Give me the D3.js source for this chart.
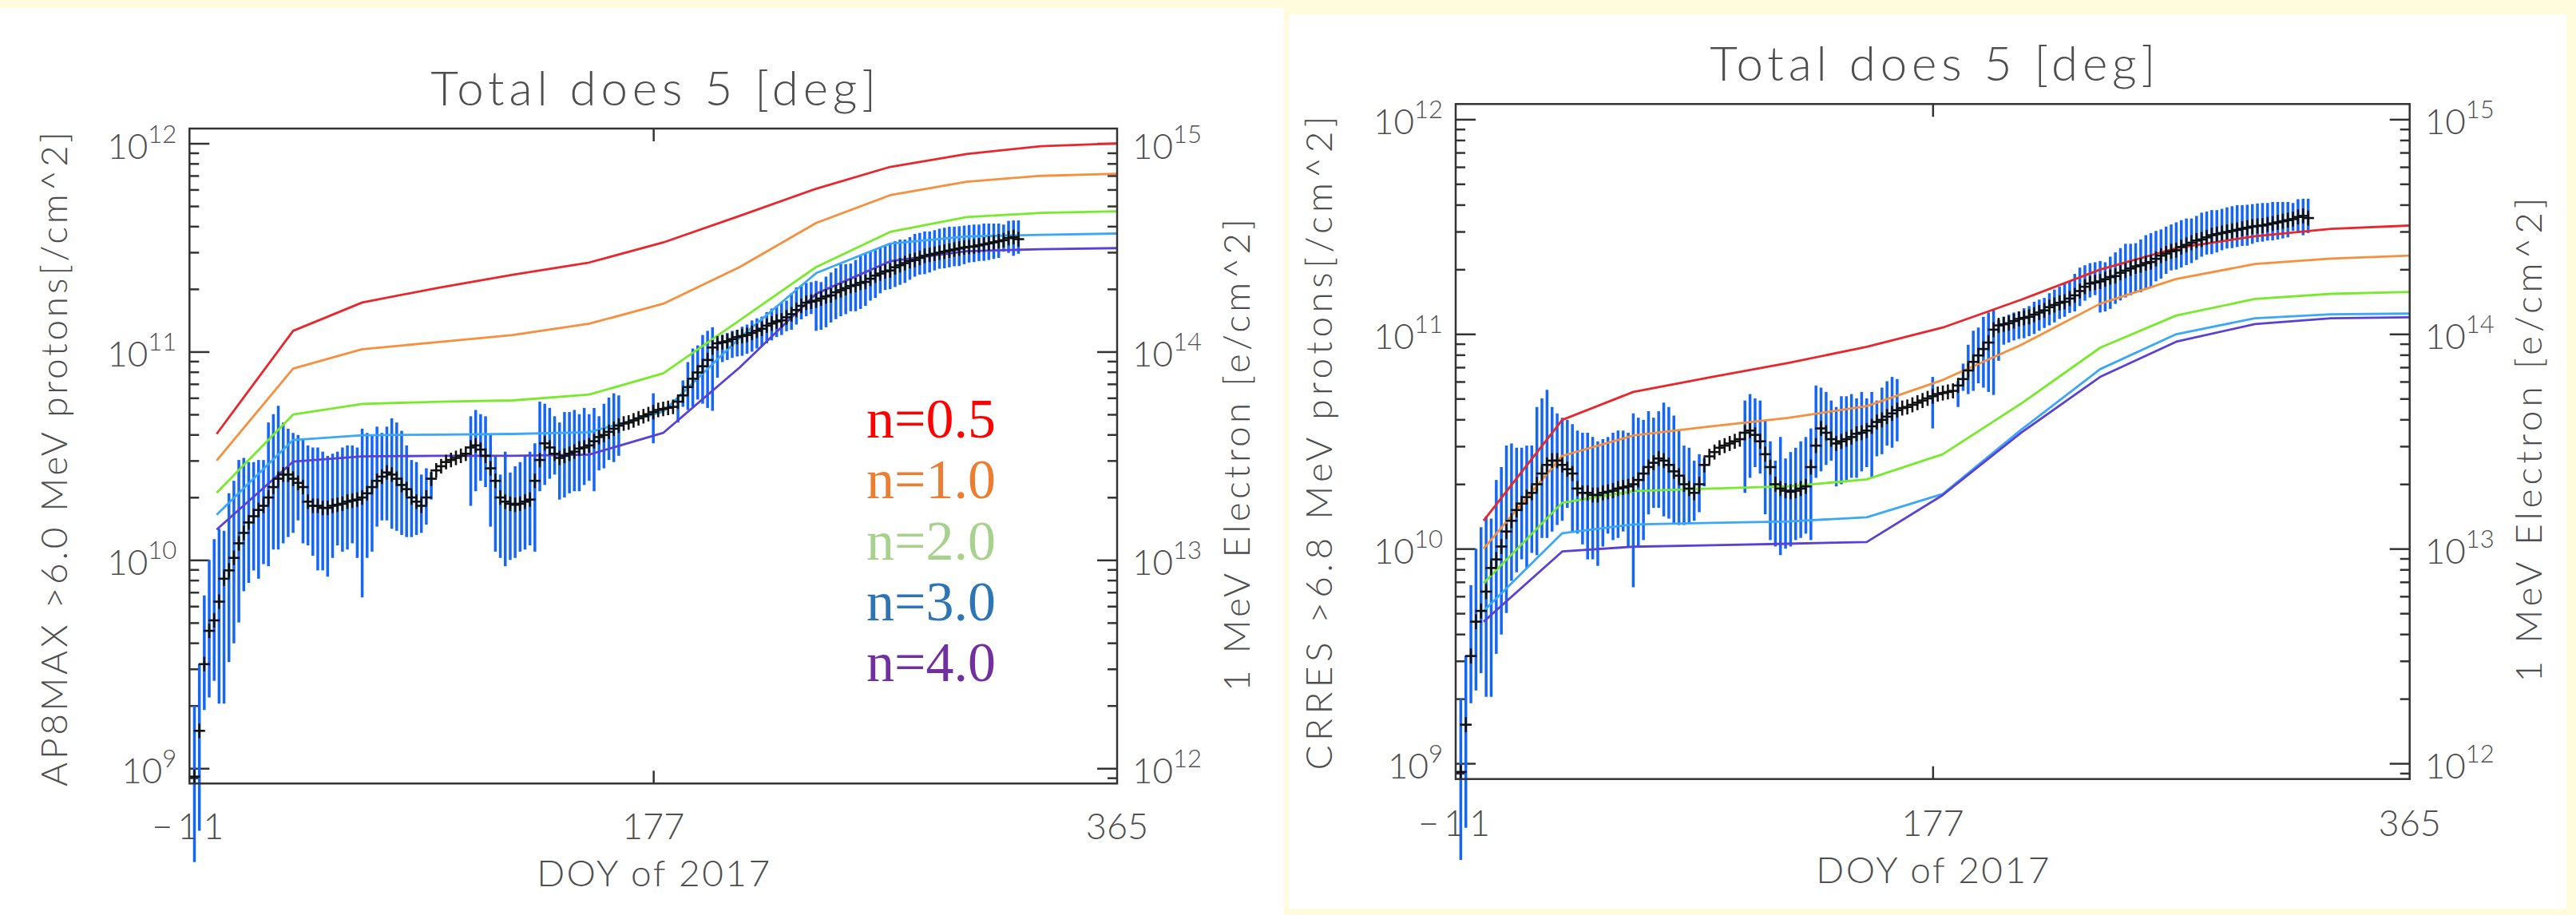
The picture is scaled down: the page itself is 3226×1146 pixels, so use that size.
<!DOCTYPE html>
<html><head><meta charset="utf-8">
<script src="https://cdn.jsdelivr.net/npm/d3@7"></script>
<style>
html,body{margin:0;padding:0;background:#fffbdc;}
svg{display:block;}
</style></head><body>
<svg id="c" width="3226" height="1146"></svg>
<script>
// ---------------- DATA ----------------
// measured cumulative fluence (log10 of /cm^2), day of year 2017
const doy = [-9,-7,-5,-3,-1,1,3,5,7,9,11,13,15,17,19,21,23,25,27,29,31,33,35,37,39,41,43,45,47,49,51,53,55,57,59,61,63,65,67,69,71,73,75,77,79,81,83,85,87,89,91,93,95,97,99,101,103,105,107,109,111,113,115,117,119,121,123,125,127,129,131,133,135,137,139,141,143,145,147,149,151,153,155,157,159,161,163,165,167,169,171,173,175,177,179,181,183,185,187,189,191,193,195,197,199,201,203,205,207,209,211,213,215,217,219,221,223,225,227,229,231,233,235,237,239,241,243,245,247,249,251,253,255,257,259,261,263,265,267,269,271,273,275,277,279,281,283,285,287,289,291,293,295,297,299,301,303,305,307,309,311,313,315,317,319,321,323,325];
const logCenter = [
 8.96,9.18,9.50,9.66,9.71,9.80,9.91,9.95,10.01,10.08,
 10.13,10.18,10.21,10.24,10.26,10.30,10.35,10.39,10.41,10.41,
 10.39,10.37,10.35,10.28,10.26,10.26,10.25,10.25,10.26,10.265,
 10.27,10.28,10.285,10.29,10.30,10.32,10.35,10.38,10.40,10.42,
 10.41,10.39,10.36,10.34,10.30,10.28,10.26,10.30,10.39,10.43,
 10.45,10.47,10.48,10.49,10.50,10.51,10.54,10.55,10.53,10.50,
 10.44,10.38,10.30,10.28,10.27,10.265,10.27,10.28,10.29,10.38,
 10.48,10.56,10.54,10.51,10.49,10.50,10.51,10.52,10.535,10.54,
 10.55,10.57,10.59,10.60,10.615,10.63,10.645,10.655,10.66,10.67,
 10.68,10.69,10.70,10.71,10.72,10.725,10.73,10.735,10.76,10.79,
 10.83,10.87,10.90,10.93,10.96,11.02,11.04,11.045,11.05,11.06,
 11.07,11.075,11.08,11.09,11.10,11.11,11.125,11.135,11.145,11.15,
 11.165,11.18,11.20,11.22,11.235,11.24,11.245,11.255,11.265,11.27,
 11.285,11.295,11.305,11.315,11.32,11.33,11.335,11.35,11.365,11.375,
 11.385,11.39,11.405,11.415,11.425,11.435,11.44,11.45,11.46,11.465,
 11.47,11.475,11.48,11.485,11.49,11.495,11.50,11.503,11.505,11.51,
 11.515,11.52,11.525,11.53,11.535,11.545,11.55,11.54];
const logLow = [
 8.55,8.70,9.28,9.34,9.42,9.31,9.31,9.51,9.60,9.70,
 9.85,9.89,9.95,9.91,9.98,9.97,10.05,10.05,10.08,10.11,
 10.13,10.19,10.08,10.07,10.02,9.95,9.95,9.92,10.01,10.07,
 10.04,10.05,10.08,10.01,9.82,10.01,10.04,10.16,10.19,10.19,
 10.15,10.14,10.12,10.11,10.11,10.12,10.13,10.17,10.29,null,
 null,null,null,null,null,null,10.26,10.33,10.38,10.35,
 10.16,10.04,10.01,9.97,10.00,10.01,10.04,10.05,10.07,10.04,
 10.33,10.36,10.39,10.41,10.29,10.30,10.32,10.33,10.33,10.36,
 10.38,10.33,10.43,10.44,10.48,10.47,10.50,null,null,null,
 null,null,null,10.56,null,null,null,null,10.66,10.735,
 10.72,10.735,10.77,10.75,10.73,10.716,10.875,10.95,10.96,10.97,
 10.977,10.98,10.99,11.00,11.015,11.028,11.04,11.054,11.07,11.08,
 11.098,11.105,11.13,11.155,11.17,11.181,11.10,11.105,11.117,11.14,
 11.156,11.17,11.18,11.194,11.194,11.205,11.22,11.245,11.258,11.28,
 11.296,11.30,11.31,11.321,11.33,11.345,11.36,11.37,11.372,11.38,
 11.39,11.398,11.40,11.405,11.41,11.411,11.42,11.428,11.43,11.435,
 11.436,11.44,11.445,11.45,11.48,11.474,11.46,11.47];
const logHigh = [
 9.30,9.50,9.83,10.00,10.10,10.15,10.14,10.32,10.38,10.48,
 10.49,10.47,10.47,10.48,10.48,10.66,10.70,10.74,10.66,10.63,
 10.61,10.60,10.58,10.55,10.54,10.54,10.52,10.50,10.51,10.52,
 10.54,10.55,10.55,10.54,10.63,10.61,10.60,10.64,10.61,10.64,
 10.68,10.66,10.62,10.55,10.48,10.47,10.41,10.44,10.42,null,
 null,null,null,null,null,null,10.69,10.72,10.70,10.69,
 10.60,10.50,10.41,10.52,10.42,10.45,10.47,10.50,10.52,10.56,
 10.76,10.75,10.73,10.69,10.66,10.71,10.71,10.72,10.70,10.73,
 10.70,10.73,10.69,10.75,10.78,10.80,10.79,null,null,null,
 null,null,null,10.80,null,null,null,null,10.78,10.862,
 10.95,11.015,11.03,11.08,11.10,11.117,11.066,11.08,11.09,11.10,
 11.105,11.12,11.13,11.15,11.16,11.168,11.19,11.207,11.22,11.235,
 11.245,11.28,11.309,11.32,11.33,11.334,11.34,11.334,11.36,11.38,
 11.40,11.42,11.42,11.423,11.44,11.46,11.47,11.48,11.487,11.50,
 11.51,11.52,11.53,11.538,11.538,11.55,11.565,11.57,11.577,11.577,
 11.583,11.59,11.595,11.60,11.60,11.602,11.605,11.608,11.61,11.61,
 11.615,11.615,11.615,11.615,11.61,11.628,11.63,11.63];

// model curves (log10 fluence) at month ends
const months = [0,31,59,90,120,151,181,212,243,273,304,334,365];
const ap8N05 = [10.605,11.10,11.236,11.307,11.369,11.428,11.524,11.652,11.782,11.887,11.949,11.986,12.0];
const ap8N10 = [10.477,10.919,11.012,11.046,11.08,11.134,11.23,11.406,11.618,11.751,11.816,11.844,11.854];
const ap8N20 = [10.322,10.698,10.749,10.76,10.766,10.794,10.896,11.151,11.406,11.575,11.646,11.666,11.674];
const ap8N30 = [10.217,10.576,10.599,10.602,10.605,10.613,10.712,11.066,11.377,11.519,11.553,11.561,11.567];
const ap8N40 = [10.146,10.472,10.497,10.5,10.5,10.506,10.61,10.924,11.278,11.434,11.482,11.492,11.497];
const crN05 = [10.13,10.60,10.73,10.80,10.865,10.94,11.03,11.16,11.30,11.40,11.455,11.49,11.505];
const crN10 = [10.0,10.432,10.527,10.57,10.609,10.664,10.786,10.95,11.141,11.256,11.326,11.351,11.365];
const crN20 = [9.84,10.214,10.268,10.28,10.29,10.323,10.44,10.677,10.936,11.086,11.163,11.187,11.196];
const crN30 = [9.71,10.072,10.113,10.12,10.127,10.146,10.255,10.555,10.836,10.999,11.073,11.092,11.095];
const crN40 = [9.66,9.987,10.009,10.016,10.023,10.031,10.25,10.541,10.80,10.964,11.046,11.073,11.078];

const legendLabels = ["n=0.5","n=1.0","n=2.0","n=3.0","n=4.0"];
const xTickValues = [-11,177,365];
const xTickLabels = ["\u221211","177","365"];
const leftExps = [9,10,11,12];
const rightExps = [12,13,14,15];

// ---------------- STYLE ----------------
const lineColors = ["#e8262b","#f78f3c","#77ea2c","#3aa7f8","#5a40d4"];
const legendColors = ["#ff0000","#ed7d31","#a9d18e","#2e75b6","#7030a0"];
const BLUE = "#1466f6";
const FONT = "Lato, 'Open Sans', 'DejaVu Sans', sans-serif";
const TXT = "#4e4e4e";
const LOGMIN = 8.927, LOGMAX = 12.071;

const svg = d3.select('#c');
svg.append('rect').attr('x',0).attr('y',0).attr('width',3226).attr('height',1146).attr('fill','#fffbdc');
svg.append('rect').attr('x',0).attr('y',10).attr('width',1608).attr('height',1136).attr('fill','#ffffff');
svg.append('rect').attr('x',1614).attr('y',18).attr('width',1600).attr('height',1120).attr('fill','#ffffff');

const panels = [
  {x0:237.3,x1:1399,y0:161,y1:981.3,title:'Total does 5 [deg]',titleBase:132,
   ylab:'AP8MAX >6.0 MeV protons[/cm^2]',ylabX:66,ylabLen:820,ylabCY:575,
   y2lab:'1 MeV Electron [e/cm^2]',y2labX:1547,y2labLen:592,y2labCY:570,
   xLabBase:1051,doyBase:1110,models:[ap8N05,ap8N10,ap8N20,ap8N30,ap8N40],legend:true},
  {x0:1823,x1:3017.7,y0:130.3,y1:975.7,title:'Total does 5 [deg]',titleBase:101,
   ylab:'CRRES >6.8 MeV protons[/cm^2]',ylabX:1650,ylabLen:819,ylabCY:555,
   y2lab:'1 MeV Electron [e/cm^2]',y2labX:3165,y2labLen:607,y2labCY:551,
   xLabBase:1047,doyBase:1106,models:[crN05,crN10,crN20,crN30,crN40],legend:false}
];

function minorVals(offset){
  const v=[];
  for(let k=8;k<=12;k++) for(let m=2;m<=9;m++){
    const l=k+Math.log10(m);
    if(l>LOGMIN && l<LOGMAX) v.push(m*Math.pow(10,k+offset));
  }
  return v;
}

panels.forEach(p=>{
  const g = svg.append('g');
  const x = d3.scaleLinear().domain([-11,365]).range([p.x0,p.x1]);
  const y = d3.scaleLog().domain([Math.pow(10,LOGMIN),Math.pow(10,LOGMAX)]).range([p.y1,p.y0]);
  const yR = d3.scaleLog().domain([Math.pow(10,LOGMIN+3),Math.pow(10,LOGMAX+3)]).range([p.y1,p.y0]);

  // axes ticks (inward)
  const styleAxis = sel=>{ sel.select('.domain').remove(); sel.selectAll('line').attr('stroke','#333').attr('stroke-width',2.5); sel.selectAll('text').remove(); };
  g.append('g').attr('transform',`translate(${p.x0},0)`).call(d3.axisLeft(y).tickValues(minorVals(0)).tickSize(-12).tickFormat('')).call(styleAxis);
  g.append('g').attr('transform',`translate(${p.x0},0)`).call(d3.axisLeft(y).tickValues(leftExps.map(e=>Math.pow(10,e))).tickSize(-25).tickFormat('')).call(styleAxis);
  g.append('g').attr('transform',`translate(${p.x1},0)`).call(d3.axisRight(yR).tickValues(minorVals(3)).tickSize(-12).tickFormat('')).call(styleAxis);
  g.append('g').attr('transform',`translate(${p.x1},0)`).call(d3.axisRight(yR).tickValues(rightExps.map(e=>Math.pow(10,e))).tickSize(-25).tickFormat('')).call(styleAxis);
  g.append('g').attr('transform',`translate(0,${p.y1})`).call(d3.axisBottom(x).tickValues([177]).tickSize(-16).tickFormat('')).call(styleAxis);
  g.append('g').attr('transform',`translate(0,${p.y0})`).call(d3.axisTop(x).tickValues([177]).tickSize(-16).tickFormat('')).call(styleAxis);

  // blue error bars
  const idx = d3.range(doy.length);
  g.append('g').selectAll('line').data(idx.filter(i=>logLow[i]!==null)).join('line')
    .attr('x1',i=>x(doy[i])).attr('x2',i=>x(doy[i]))
    .attr('y1',i=>y(Math.pow(10,logLow[i]))).attr('y2',i=>y(Math.pow(10,logHigh[i])))
    .attr('stroke',BLUE).attr('stroke-width',3.5);

  // model curves
  const line = d3.line().x(d=>x(d[0])).y(d=>y(Math.pow(10,d[1])));
  p.models.forEach((m,k)=>{
    g.append('path').datum(months.map((d,i)=>[d,m[i]])).attr('d',line)
      .attr('fill','none').attr('stroke',lineColors[k]).attr('stroke-width',2.8).attr('stroke-linejoin','round');
  });

  // black crosses
  const cg = g.append('g').attr('stroke','#111').attr('stroke-width',2.6);
  cg.selectAll('line.h').data(idx).join('line').attr('class','h')
    .attr('x1',i=>x(doy[i]-2.3)).attr('x2',i=>x(doy[i]+2.3))
    .attr('y1',i=>y(Math.pow(10,logCenter[i]))).attr('y2',i=>y(Math.pow(10,logCenter[i])));
  cg.selectAll('line.v').data(idx).join('line').attr('class','v')
    .attr('x1',i=>x(doy[i])).attr('x2',i=>x(doy[i]))
    .attr('y1',i=>y(Math.pow(10,logCenter[i]-0.035))).attr('y2',i=>y(Math.pow(10,logCenter[i]+0.035)));

  // frame
  g.append('rect').attr('x',p.x0).attr('y',p.y0).attr('width',p.x1-p.x0).attr('height',p.y1-p.y0)
    .attr('fill','none').attr('stroke','#333').attr('stroke-width',2.5);

  // y tick labels
  const tl = g.append('g').attr('font-family',FONT).attr('font-weight',300).attr('fill',TXT);
  leftExps.forEach(e=>{
    const t = tl.append('text').attr('x',p.x0-16).attr('y',y(Math.pow(10,e))+19).attr('text-anchor','end').attr('font-size',44);
    t.append('tspan').text('10');
    t.append('tspan').attr('dy',-20).attr('font-size',31).text(e);
  });
  rightExps.forEach(e=>{
    const t = tl.append('text').attr('x',p.x1+19).attr('y',yR(Math.pow(10,e))+19).attr('text-anchor','start').attr('font-size',44);
    t.append('tspan').text('10');
    t.append('tspan').attr('dy',-20).attr('font-size',31).text(e);
  });
  // x tick labels
  xTickValues.forEach((v,i)=>{
    const t = tl.append('text').attr('x',x(v)-(i===0?2:0)).attr('y',p.xLabBase).attr('text-anchor','middle').attr('font-size',45).text(xTickLabels[i]);
    if(i===0) t.attr('textLength',90);
  });
  tl.append('text').attr('x',(p.x0+p.x1)/2).attr('y',p.doyBase).attr('text-anchor','middle').attr('font-size',46).attr('textLength',292).text('DOY of 2017');
  tl.append('text').attr('x',(p.x0+p.x1)/2).attr('y',p.titleBase).attr('text-anchor','middle').attr('font-size',60).attr('textLength',558).text(p.title);
  tl.append('text').attr('transform',`translate(${p.ylabX},${p.ylabCY}) rotate(-90)`).attr('text-anchor','middle').attr('dominant-baseline','central')
    .attr('font-size',46).attr('textLength',p.ylabLen).text(p.ylab);
  tl.append('text').attr('transform',`translate(${p.y2labX},${p.y2labCY}) rotate(-90)`).attr('text-anchor','middle').attr('dominant-baseline','central')
    .attr('font-size',46).attr('textLength',p.y2labLen).text(p.y2lab);

  if(p.legend){
    const lg = g.append('g').attr('font-family',"'Liberation Serif','Times New Roman',serif").attr('font-size',70);
    legendLabels.forEach((s,i)=>{
      lg.append('text').attr('x',1085).attr('y',548+i*76.3).attr('fill',legendColors[i]).text(s);
    });
  }
});
</script>
</body></html>
